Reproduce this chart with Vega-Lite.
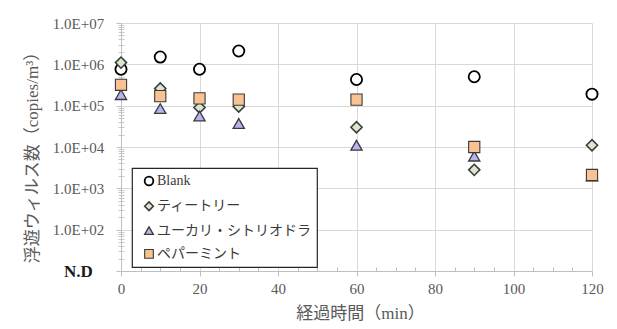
{
  "$schema": "https://vega.github.io/schema/vega-lite/v6.json",
  "width": 471,
  "height": 248,
  "autosize": {"type": "none"},
  "padding": {"left": 121, "top": 23, "right": 25, "bottom": 58},
  "background": "white",
  "data": {
    "values": [
      {"t": 0, "v": 760000, "series": "Blank"},
      {"t": 10, "v": 1500000, "series": "Blank"},
      {"t": 20, "v": 760000, "series": "Blank"},
      {"t": 30, "v": 2100000, "series": "Blank"},
      {"t": 60, "v": 430000, "series": "Blank"},
      {"t": 90, "v": 500000, "series": "Blank"},
      {"t": 120, "v": 190000, "series": "Blank"},
      {"t": 0, "v": 1100000, "series": "ティートリー"},
      {"t": 10, "v": 260000, "series": "ティートリー"},
      {"t": 20, "v": 90000, "series": "ティートリー"},
      {"t": 30, "v": 95000, "series": "ティートリー"},
      {"t": 60, "v": 30000, "series": "ティートリー"},
      {"t": 90, "v": 2800, "series": "ティートリー"},
      {"t": 120, "v": 11000, "series": "ティートリー"},
      {"t": 0, "v": 185000, "series": "ユーカリ・シトリオドラ"},
      {"t": 10, "v": 85000, "series": "ユーカリ・シトリオドラ"},
      {"t": 20, "v": 56000, "series": "ユーカリ・シトリオドラ"},
      {"t": 30, "v": 37000, "series": "ユーカリ・シトリオドラ"},
      {"t": 60, "v": 11000, "series": "ユーカリ・シトリオドラ"},
      {"t": 90, "v": 6000, "series": "ユーカリ・シトリオドラ"},
      {"t": 120, "v": 2000, "series": "ユーカリ・シトリオドラ"},
      {"t": 0, "v": 320000, "series": "ペパーミント"},
      {"t": 10, "v": 170000, "series": "ペパーミント"},
      {"t": 20, "v": 150000, "series": "ペパーミント"},
      {"t": 30, "v": 140000, "series": "ペパーミント"},
      {"t": 60, "v": 140000, "series": "ペパーミント"},
      {"t": 90, "v": 10000, "series": "ペパーミント"},
      {"t": 120, "v": 2100, "series": "ペパーミント"}
    ]
  },
  "resolve": {"axis": {"x": "independent", "y": "independent"}},
  "layer": [
    {
      "mark": {"type": "point", "filled": false, "opacity": 0},
      "encoding": {
        "x": {"field": "t", "type": "quantitative",
          "scale": {"domain": [0, 120], "nice": false, "zero": false},
          "axis": {"orient": "bottom", "values": [5, 10, 15, 25, 30, 35, 45, 50, 55, 65, 70, 75, 85, 90, 95, 105, 110, 115],
            "tickSize": -4, "tickColor": "#bfbfbf", "labels": false, "domain": false, "grid": false, "title": null}},
        "y": {"field": "v", "type": "quantitative",
          "scale": {"type": "log", "domain": [10, 10000000], "nice": false},
          "axis": {"orient": "left", "values": [20, 30, 40, 50, 60, 70, 80, 90, 200, 300, 400, 500, 600, 700, 800, 900, 2000, 3000, 4000, 5000, 6000, 7000, 8000, 9000, 20000, 30000, 40000, 50000, 60000, 70000, 80000, 90000, 200000, 300000, 400000, 500000, 600000, 700000, 800000, 900000, 2000000, 3000000, 4000000, 5000000, 6000000, 7000000, 8000000, 9000000],
            "tickSize": 3, "tickColor": "#c8c8c8", "labels": false, "domain": false, "grid": false, "title": null}}
      }
    },
    {
      "mark": {"type": "point", "filled": false, "opacity": 0},
      "encoding": {
        "x": {"field": "t", "type": "quantitative",
          "axis": {"orient": "bottom", "values": [0], "ticks": false, "labels": false, "domain": false, "grid": false, "title": null}},
        "y": {"field": "v", "type": "quantitative",
          "axis": {"orient": "left", "values": [20, 30, 40, 50, 60, 70, 80, 90, 200, 300, 400, 500, 600, 700, 800, 900, 2000, 3000, 4000, 5000, 6000, 7000, 8000, 9000, 20000, 30000, 40000, 50000, 60000, 70000, 80000, 90000, 200000, 300000, 400000, 500000, 600000, 700000, 800000, 900000, 2000000, 3000000, 4000000, 5000000, 6000000, 7000000, 8000000, 9000000],
            "tickSize": -3, "tickColor": "#c8c8c8", "labels": false, "domain": false, "grid": false, "title": null}}
      }
    },
    {
      "mark": {"type": "point", "filled": true, "opacity": 1, "size": 125},
      "encoding": {
        "x": {"field": "t", "type": "quantitative",
          "axis": {"orient": "bottom", "values": [0, 20, 40, 60, 80, 100, 120],
            "grid": true, "gridColor": "#d9d9d9", "domainColor": "#bfbfbf", "tickColor": "#bfbfbf", "tickSize": 5,
            "labelFont": "Liberation Serif", "labelFontSize": 15, "labelColor": "#595959", "labelPadding": 5, "labelFlush": false,
            "title": "経過時間（min）", "titleFont": "Liberation Serif, Noto Sans CJK JP", "titleFontSize": 17,
            "titleFontWeight": "normal", "titleColor": "#595959", "titleX": 239, "titleY": 42, "titleBaseline": "middle", "titleAlign": "center"}},
        "y": {"field": "v", "type": "quantitative",
          "axis": {"orient": "left", "values": [10, 100, 1000, 10000, 100000, 1000000, 10000000],
            "labelExpr": "datum.value <= 10 ? 'N.D' : '1.0E+0' + round(log(datum.value) / LN10)",
            "grid": true, "gridColor": "#d9d9d9", "domainColor": "#bfbfbf", "tickColor": "#bfbfbf", "tickSize": 5,
            "labelFont": "Liberation Serif", "labelAlign": "center", "labelPadding": 38, "labelFlush": false,
            "labelFontSize": {"condition": {"test": "datum.value <= 10", "value": 17}, "value": 15},
            "labelColor": {"condition": {"test": "datum.value <= 10", "value": "#1a1a1a"}, "value": "#595959"},
            "labelFontWeight": {"condition": {"test": "datum.value <= 10", "value": "bold"}, "value": "normal"},
            "title": "浮遊ウィルス数（copies/m³）", "titleFont": "Liberation Serif, Noto Sans CJK JP", "titleFontSize": 17,
            "titleFontWeight": "normal", "titleColor": "#595959", "titleX": -89, "titleY": 130, "titleBaseline": "middle", "titleAlign": "center"}},
        "shape": {"field": "series", "type": "nominal",
          "scale": {"domain": ["Blank", "ティートリー", "ユーカリ・シトリオドラ", "ペパーミント"], "range": ["circle", "diamond", "triangle-up", "square"]}},
        "fill": {"field": "series", "type": "nominal",
          "scale": {"domain": ["Blank", "ティートリー", "ユーカリ・シトリオドラ", "ペパーミント"], "range": ["#ffffff", "#d7e8cd", "#b4b4f0", "#f9c391"]}},
        "stroke": {"field": "series", "type": "nominal",
          "scale": {"domain": ["Blank", "ティートリー", "ユーカリ・シトリオドラ", "ペパーミント"], "range": ["#000000", "#3a3a3a", "#3a3a3a", "#3a3a3a"]}},
        "strokeWidth": {"field": "series", "type": "nominal",
          "scale": {"domain": ["Blank", "ティートリー", "ユーカリ・シトリオドラ", "ペパーミント"], "range": [1.8, 1.1, 1.1, 1.1]}}
      }
    }
  ],
  "config": {
    "view": {"stroke": null},
    "axis": {"labelFont": "Liberation Serif", "labelFlush": false},
    "legend": {
      "orient": "none", "legendX": 11, "legendY": 145, "title": null,
      "strokeColor": "#262626", "fillColor": "#ffffff", "strokeWidth": 1.2, "padding": 6,
      "symbolSize": 75, "symbolOffset": 4, "labelOffset": 1, "rowPadding": 9.3,
      "labelFont": "Liberation Serif, Noto Sans CJK JP", "labelFontSize": 14, "labelColor": "#3a3a3a", "labelLimit": 300
    }
  }
}
